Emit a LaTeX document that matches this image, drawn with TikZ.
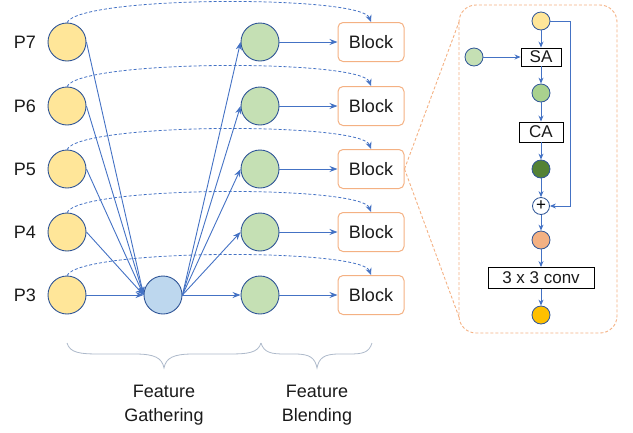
\documentclass[tikz,border=0pt]{standalone}
\usepackage{fontspec}
\setmainfont{Liberation Sans}
\usetikzlibrary{arrows.meta}
\definecolor{arrowblue}{HTML}{4472C4}
\definecolor{edgeblue}{HTML}{2F5597}
\definecolor{pyellow}{HTML}{FFE699}
\definecolor{pgreen}{HTML}{C5E0B4}
\definecolor{pblue}{HTML}{BDD7EE}
\definecolor{borange}{HTML}{F4B183}
\definecolor{midgreen}{HTML}{A9D18E}
\definecolor{darkgreen}{HTML}{548235}
\definecolor{gold}{HTML}{FFC000}
\definecolor{bracegray}{HTML}{ADB9CA}
\definecolor{txt}{HTML}{1A1A1A}

\begin{document}
\begin{tikzpicture}[x=1pt,y=-1pt,
  feat/.style={circle,draw=edgeblue,line width=0.9pt,minimum size=38pt,inner sep=0pt},
  dot/.style={circle,draw=edgeblue,line width=0.8pt,minimum size=18pt,inner sep=0pt},
  blockbox/.style={draw=borange,line width=1pt,rounded corners=5pt,minimum width=66pt,
    minimum height=39pt,text=txt,font=\fontsize{18}{20}\selectfont},
  opbox/.style={draw=black,line width=0.9pt,inner sep=0pt,text=txt,font=\fontsize{17}{19}\selectfont},
  flow/.style={draw=arrowblue,line width=0.9pt,-{Stealth[length=8pt,width=6pt]}},
  flowsm/.style={draw=arrowblue,line width=0.9pt,-{Stealth[length=6pt,width=5pt]}},
  skip/.style={draw=arrowblue,line width=0.8pt,dash pattern=on 3pt off 2pt,-{Stealth[length=7pt,width=6pt]}},
  zoomline/.style={draw=borange,line width=0.9pt,dash pattern=on 3pt off 2pt},
  lbl/.style={text=txt,font=\fontsize{18}{20}\selectfont},
  brace/.style={draw=bracegray,line width=0.8pt}
]
\useasboundingbox (0,0) rectangle (633,432);

% pyramid levels, blended features and output blocks
\foreach \n/\y in {7/42,6/106,5/169,4/232,3/295}{
  \node[lbl] (l\n) at (25,\y) {P\n};
  \node[feat,fill=pyellow] (p\n) at (67,\y) {};
  \node[feat,fill=pgreen] (g\n) at (260,\y) {};
  \node[blockbox] (b\n) at (371,\y) {Block};
}
\node[feat,fill=pblue] (gather) at (163,295) {};

\foreach \n in {7,6,5,4,3}{
  \draw[flow] (p\n.east) -- (gather.west);
  \draw[flow] (gather.east) -- (g\n.west);
  \draw[flow] (g\n.east) -- (b\n.west);
  \draw[skip] (p\n.north) .. controls +(13,-27) and +(-10,-27) .. (b\n.north);
}

% detail panel of one block
\draw[zoomline,rounded corners=17pt] (459,5) rectangle (617,333);
\coordinate (ztop) at (459,22);
\coordinate (zbot) at (459,317);
\draw[zoomline] (b5.east) -- (ztop);
\draw[zoomline] (b5.east) -- (zbot);

\node[dot,fill=pyellow] (in) at (541,21) {};
\node[opbox,minimum width=40pt,minimum height=18pt] (sa) at (541,57) {SA};
\node[dot,fill=pgreen] (side) at (474,57) {};
\node[dot,fill=midgreen] (m1) at (541,93) {};
\node[opbox,minimum width=44pt,minimum height=20pt] (ca) at (541,132) {CA};
\node[dot,fill=darkgreen] (m2) at (541,169) {};
\node[circle,draw=edgeblue,line width=0.8pt,fill=white,minimum size=17pt,inner sep=0pt,
  font=\fontsize{17}{17}\selectfont] (sum) at (541,206) {+};
\node[dot,fill=borange] (m3) at (541,240) {};
\node[opbox,minimum width=106pt,minimum height=21pt] (conv) at (541,278) {3 x 3 conv};
\node[dot,fill=gold] (out) at (541,315) {};

\draw[flowsm] (in) -- (sa);
\draw[flowsm] (side) -- (sa);
\draw[flowsm] (sa) -- (m1);
\draw[flowsm] (m1) -- (ca);
\draw[flowsm] (ca) -- (m2);
\draw[flowsm] (m2) -- (sum);
\draw[flowsm] (sum) -- (m3);
\draw[flowsm] (m3) -- (conv);
\draw[flowsm] (conv) -- (out);
\draw[flowsm] (in.east) -- ++(20,0) |- (sum.east);

% stage braces
\draw[brace] (67,343) .. controls (70,353) and (80,354) .. (100,354) -- (135,354)
  .. controls (155,354) and (162,358) .. (164,368)
  .. controls (166,358) and (173,354) .. (193,354) -- (228,354)
  .. controls (248,354) and (258,353) .. (261,343);
\draw[brace] (261,343) .. controls (264,353) and (272,354) .. (285,354) -- (295,354)
  .. controls (310,354) and (315,358) .. (317,368)
  .. controls (319,358) and (324,354) .. (339,354) -- (349,354)
  .. controls (362,354) and (369,353) .. (372,343);

\node[lbl,align=center,font=\fontsize{18}{24}\selectfont] (fg) at (164,405) {Feature\\Gathering};
\node[lbl,align=center,font=\fontsize{18}{24}\selectfont] (fb) at (317,405) {Feature\\Blending};
\end{tikzpicture}
\end{document}
